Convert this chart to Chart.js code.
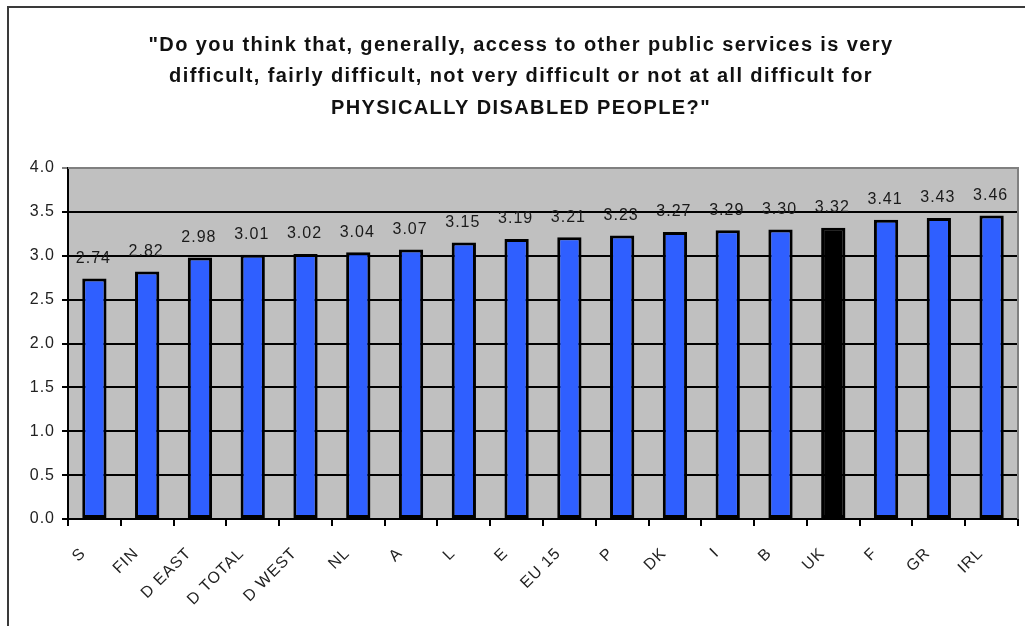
<!DOCTYPE html>
<html>
<head>
<meta charset="utf-8">
<script src="https://cdn.jsdelivr.net/npm/chart.js@4/dist/chart.umd.min.js"></script>
<style>
  html, body { margin: 0; padding: 0; background: #fff; }
  #wrap { position: relative; width: 1025px; height: 626px; }
</style>
</head>
<body>
<div id="wrap"><canvas id="c" width="1025" height="626"></canvas></div>
<script>
// Mean score per country (1 = very difficult ... 4 = not at all difficult)
const countries = ['S', 'FIN', 'D EAST', 'D TOTAL', 'D WEST', 'NL', 'A', 'L', 'E', 'EU 15',
                   'P', 'DK', 'I', 'B', 'UK', 'F', 'GR', 'IRL'];
const scores = [2.74, 2.82, 2.98, 3.01, 3.02, 3.04, 3.07, 3.15, 3.19, 3.21,
                3.23, 3.27, 3.29, 3.30, 3.32, 3.41, 3.43, 3.46];
const highlighted = 'UK';
const yTicks = [0, 0.5, 1, 1.5, 2, 2.5, 3, 3.5, 4];
const titleLines = [
  '"Do you think that, generally, access to other public services is very',
  'difficult, fairly difficult, not very difficult or not at all difficult for',
  'PHYSICALLY DISABLED PEOPLE?"'
];

const FONT = '"Liberation Sans", Arial, sans-serif';

// Page frame, title, grey plot background and grey top/right plot border
const framePlugin = {
  id: 'frame',
  beforeDraw(chart) {
    const ctx = chart.ctx;
    const a = chart.chartArea;
    ctx.save();
    ctx.fillStyle = '#c0c0c0';
    ctx.fillRect(a.left, a.top, a.right - a.left, a.bottom - a.top);
    ctx.strokeStyle = '#3a3a3a';
    ctx.lineWidth = 2;
    ctx.beginPath();
    ctx.moveTo(8, 626);
    ctx.lineTo(8, 7);
    ctx.lineTo(1025, 7);
    ctx.stroke();

    ctx.font = 'bold 20px ' + FONT;
    ctx.letterSpacing = '1.4px';
    ctx.fillStyle = '#111';
    ctx.textAlign = 'center';
    ctx.textBaseline = 'middle';
    titleLines.forEach((line, i) => ctx.fillText(line, 521, 45 + i * 31.5));
    ctx.restore();
    // slightly tracked text for the axis labels
    ctx.letterSpacing = '1px';
  },
  afterDatasetsDraw(chart) {
    const ctx = chart.ctx;
    const a = chart.chartArea;
    ctx.save();
    ctx.strokeStyle = '#808080';
    ctx.lineWidth = 2;
    ctx.beginPath();
    ctx.moveTo(a.left, a.top);
    ctx.lineTo(a.right, a.top);
    ctx.lineTo(a.right, a.bottom);
    ctx.stroke();
    ctx.restore();
  },
  afterDraw(chart) {
    chart.ctx.letterSpacing = '0px';
  }
};

// Value printed above each bar
const valueLabels = {
  id: 'valueLabels',
  afterDatasetsDraw(chart) {
    const ctx = chart.ctx;
    const meta = chart.getDatasetMeta(0);
    ctx.save();
    ctx.font = '16px ' + FONT;
    ctx.letterSpacing = '1px';
    ctx.fillStyle = '#1a1a1a';
    ctx.textAlign = 'center';
    ctx.textBaseline = 'middle';
    meta.data.forEach((bar, i) => {
      ctx.fillText(scores[i].toFixed(2), bar.x - 1, bar.y - 20);
    });
    ctx.restore();
  }
};

new Chart(document.getElementById('c'), {
  type: 'bar',
  data: {
    labels: countries,
    datasets: [{
      data: scores,
      backgroundColor: countries.map(c => c === highlighted ? '#000000' : '#2f5fff'),
      borderColor: '#000000',
      borderWidth: 3,
      borderSkipped: false,
      categoryPercentage: 1,
      barPercentage: 0.46
    }]
  },
  options: {
    responsive: false,
    animation: false,
    devicePixelRatio: 1,
    layout: { padding: { left: 0, right: 7, top: 168, bottom: 0 } },
    plugins: {
      legend: { display: false },
      tooltip: { enabled: false },
      title: { display: false }
    },
    scales: {
      x: {
        grid: { display: true, drawOnChartArea: false, drawTicks: true, tickLength: 7,
                color: '#000', lineWidth: 2, offset: true },
        border: { display: true, color: '#000', width: 2 },
        ticks: {
          color: '#222',
          font: { family: FONT, size: 16 },
          maxRotation: 45, minRotation: 45,
          autoSkip: false,
          padding: 18,
          labelOffset: -11
        },
        afterFit(scale) { scale.height = 107; }
      },
      y: {
        min: 0, max: 4,
        afterBuildTicks(scale) { scale.ticks = yTicks.map(v => ({ value: v })); },
        grid: {
          color: ctx => ctx.tick && ctx.tick.value === 4 ? '#808080' : '#000',
          lineWidth: 2,
          tickLength: 6,
          drawTicks: true
        },
        border: { display: true, color: '#000', width: 2 },
        ticks: {
          color: '#222',
          font: { family: FONT, size: 16 },
          padding: 7,
          callback: v => Number(v).toFixed(1)
        },
        afterFit(scale) { scale.width = 68; }
      }
    }
  },
  plugins: [framePlugin, valueLabels]
});
</script>
</body>
</html>
